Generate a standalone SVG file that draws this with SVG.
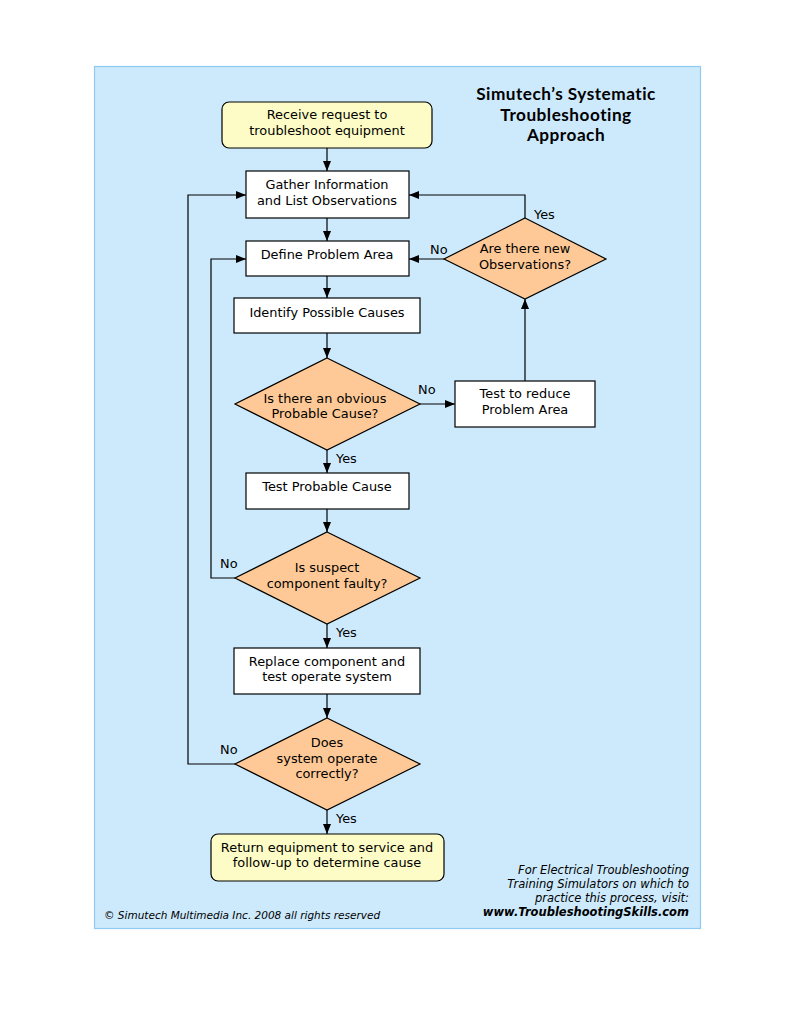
<svg xmlns="http://www.w3.org/2000/svg" width="791" height="1024" viewBox="0 0 791 1024">
<style>
.box{fill:#ffffff;stroke:#000;stroke-width:1.2}
.term{fill:#fdfcc6;stroke:#000;stroke-width:1.2}
.dia{fill:#fec996;stroke:#000;stroke-width:1.2}
.t{font-family:"DejaVu Sans",Verdana,sans-serif;font-size:12.9px;fill:#000;text-anchor:middle}
.lbl{font-family:"DejaVu Sans",Verdana,sans-serif;font-size:12.9px;fill:#000}
.c{fill:none;stroke:#000;stroke-width:1.2;marker-end:url(#ah)}
.title{font-family:Lato,"Open Sans",sans-serif;font-size:17.2px;letter-spacing:0.5px;font-weight:bold;text-anchor:middle;fill:#000}
.foot{font-family:"DejaVu Sans",Verdana,sans-serif;font-size:11.5px;font-style:italic;text-anchor:end;fill:#000}
</style>
<defs>
<marker id="ah" viewBox="0 0 10 10" refX="10" refY="5" markerWidth="10" markerHeight="10" markerUnits="userSpaceOnUse" orient="auto">
<path d="M0,1 L10,5 L0,9 z" fill="#000"/>
</marker>
</defs>
<rect width="791" height="1024" fill="#ffffff"/>
<rect x="94.5" y="66.5" width="606" height="862" fill="#cdeafc" stroke="#8fcaf2" stroke-width="1.2"/>
<g id="title">
<text class="title" x="566" y="100">Simutech’s Systematic</text>
<text class="title" x="566" y="120.5">Troubleshooting</text>
<text class="title" x="566" y="141">Approach</text>
</g>
<g id="connectors">
<path class="c" d="M327,148 V171"/>
<path class="c" d="M327,218 V241"/>
<path class="c" d="M327,276 V298"/>
<path class="c" d="M327,333 V358"/>
<path class="c" d="M420,404 H455"/>
<path class="c" d="M525,381 V299"/>
<path class="c" d="M444,259 H409"/>
<path class="c" d="M525,218 V195 H409"/>
<path class="c" d="M327,450 V473"/>
<path class="c" d="M327,509 V532"/>
<path class="c" d="M235,578 H211 V259 H246"/>
<path class="c" d="M327,624 V648"/>
<path class="c" d="M327,694 V718"/>
<path class="c" d="M235,764 H188 V195 H246"/>
<path class="c" d="M327,810 V834"/>
<text class="lbl" x="418" y="394">No</text>
<text class="lbl" x="430" y="254">No</text>
<text class="lbl" x="534" y="219">Yes</text>
<text class="lbl" x="336" y="463">Yes</text>
<text class="lbl" x="220" y="568">No</text>
<text class="lbl" x="336" y="637">Yes</text>
<text class="lbl" x="220" y="754">No</text>
<text class="lbl" x="336" y="823">Yes</text>
</g>
<g id="receive">
<rect class="term" x="222" y="102" width="210" height="46" rx="7"/>
<text class="t" x="327" y="119">Receive request to</text>
<text class="t" x="327" y="135">troubleshoot equipment</text>
</g>
<g id="gather">
<rect class="box" x="246" y="171" width="163" height="47"/>
<text class="t" x="327" y="189">Gather Information</text>
<text class="t" x="327" y="205">and List Observations</text>
</g>
<g id="define">
<rect class="box" x="246" y="241" width="163" height="35"/>
<text class="t" x="327" y="259">Define Problem Area</text>
</g>
<g id="identify">
<rect class="box" x="234" y="298" width="186" height="35"/>
<text class="t" x="327" y="317">Identify Possible Causes</text>
</g>
<g id="obvious">
<polygon class="dia" points="327,358 420,404 327,450 235,404"/>
<text class="t" x="325" y="403">Is there an obvious</text>
<text class="t" x="325" y="418">Probable Cause?</text>
</g>
<g id="testreduce">
<rect class="box" x="455" y="381" width="140" height="46"/>
<text class="t" x="525" y="398">Test to reduce</text>
<text class="t" x="525" y="414">Problem Area</text>
</g>
<g id="newobs">
<polygon class="dia" points="525,218 606,259 525,299 444,259"/>
<text class="t" x="525" y="253">Are there new</text>
<text class="t" x="525" y="269">Observations?</text>
</g>
<g id="testprob">
<rect class="box" x="246" y="473" width="163" height="36"/>
<text class="t" x="327" y="491">Test Probable Cause</text>
</g>
<g id="suspect">
<polygon class="dia" points="327,532 420,578 327,624 235,578"/>
<text class="t" x="327" y="572">Is suspect</text>
<text class="t" x="327" y="588">component faulty?</text>
</g>
<g id="replace">
<rect class="box" x="234" y="648" width="186" height="46"/>
<text class="t" x="327" y="666">Replace component and</text>
<text class="t" x="327" y="681">test operate system</text>
</g>
<g id="operate">
<polygon class="dia" points="327,718 420,764 327,810 235,764"/>
<text class="t" x="327" y="747">Does</text>
<text class="t" x="327" y="763">system operate</text>
<text class="t" x="327" y="778">correctly?</text>
</g>
<g id="return">
<rect class="term" x="211" y="834" width="233" height="47" rx="7"/>
<text class="t" x="327" y="852">Return equipment to service and</text>
<text class="t" x="327" y="867">follow-up to determine cause</text>
</g>
<g id="footer">
<text class="foot" x="689" y="874">For Electrical Troubleshooting</text>
<text class="foot" x="689" y="888">Training Simulators on which to</text>
<text class="foot" x="689" y="902">practice this process, visit:</text>
<text class="foot" x="689" y="916" font-weight="bold">www.TroubleshootingSkills.com</text>
<text class="foot" x="104" y="919" style="text-anchor:start;font-size:10.5px">© Simutech Multimedia Inc. 2008  all rights reserved</text>
</g>
</svg>
